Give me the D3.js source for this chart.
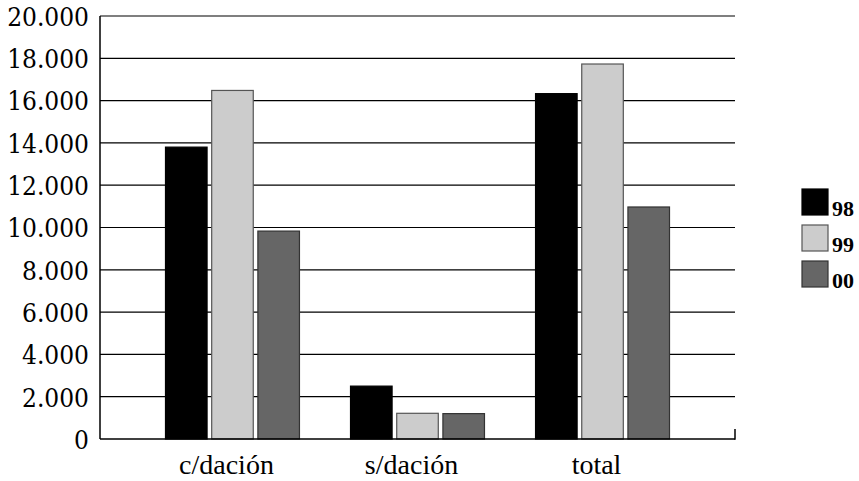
<!DOCTYPE html>
<html>
<head>
<meta charset="utf-8">
<script src="https://cdn.jsdelivr.net/npm/d3@7"></script>
</head>
<body style="margin:0;background:#fff">
<svg id="chart" width="859" height="481" style="display:block"></svg>
<script>
const categories = ["c/dación", "s/dación", "total"];
const seriesNames = ["98", "99", "00"];
const values98 = [13800, 2500, 16330];
const values99 = [16480, 1215, 17730];
const values00 = [9830, 1200, 10970];
const yTicks = [0, 2000, 4000, 6000, 8000, 10000, 12000, 14000, 16000, 18000, 20000];
const tickLabels = ["0", "2.000", "4.000", "6.000", "8.000", "10.000", "12.000", "14.000", "16.000", "18.000", "20.000"];

(function () {
const seriesValues = [values98, values99, values00];
const fills = ["#000000", "#cccccc", "#666666"];
const strokes = ["#000000", "#555555", "#333333"];
const FONT = "Liberation Serif";
const TICKFONT = "DejaVu Serif Condensed";

const svg = d3.select("#chart");
const mLeft = 100, mRight = 735, mTop = 16, mBottom = 439;

const y = d3.scaleLinear().domain([0, 20000]).range([mBottom, mTop]);
const x0 = d3.scaleBand().domain(categories).range([mLeft, mRight]).paddingInner(0.276).paddingOuter(0.354);
const x1 = d3.scaleBand().domain(seriesNames).range([0, x0.bandwidth()]).paddingInner(0.1).paddingOuter(0);

// gridlines
svg.append("g").selectAll("line").data(yTicks.filter(d => d > 0)).join("line")
  .attr("x1", mLeft).attr("x2", mRight)
  .attr("y1", d => y(d)).attr("y2", d => y(d))
  .attr("stroke", "#000").attr("stroke-width", 1.2);

// bars
const groups = svg.append("g").selectAll("g").data(categories).join("g")
  .attr("transform", c => `translate(${x0(c)},0)`);
groups.selectAll("rect")
  .data((c, ci) => seriesNames.map((s, si) => ({ s, si, v: seriesValues[si][ci] })))
  .join("rect")
  .attr("x", d => x1(d.s))
  .attr("width", x1.bandwidth())
  .attr("y", d => y(d.v))
  .attr("height", d => y(0) - y(d.v))
  .attr("fill", d => fills[d.si])
  .attr("stroke", d => strokes[d.si])
  .attr("stroke-width", 1.2);

// axes
svg.append("line").attr("x1", mLeft).attr("x2", mLeft).attr("y1", mTop).attr("y2", mBottom)
  .attr("stroke", "#000").attr("stroke-width", 1.5);
svg.append("line").attr("x1", mLeft).attr("x2", mRight).attr("y1", mBottom).attr("y2", mBottom)
  .attr("stroke", "#000").attr("stroke-width", 1.5);
svg.append("line").attr("x1", mRight).attr("x2", mRight).attr("y1", mBottom - 10).attr("y2", mBottom + 0.75)
  .attr("stroke", "#000").attr("stroke-width", 1.5);

// y tick labels
svg.append("g").selectAll("text").data(yTicks).join("text")
  .attr("x", 89)
  .attr("y", d => y(d))
  .attr("dy", "0.38em")
  .attr("text-anchor", "end")
  .attr("font-family", TICKFONT)
  .attr("font-size", 26)
  .attr("fill", "#000")
  .text((d, i) => tickLabels[i]);

// category labels
svg.append("g").selectAll("text").data(categories).join("text")
  .attr("x", c => x0(c) + x0.bandwidth() / 2 - 6)
  .attr("y", 474)
  .attr("text-anchor", "middle")
  .attr("font-family", FONT)
  .attr("font-size", 28)
  .attr("fill", "#000")
  .text(c => c);

// legend
const legend = svg.append("g").selectAll("g").data(seriesNames).join("g")
  .attr("transform", (d, i) => `translate(802,${189 + i * 36})`);
legend.append("rect")
  .attr("width", 26).attr("height", 26)
  .attr("fill", (d, i) => fills[i])
  .attr("stroke", (d, i) => strokes[i])
  .attr("stroke-width", 1.2);
legend.append("text")
  .attr("x", 30).attr("y", 27)
  .attr("font-family", FONT)
  .attr("font-weight", "bold")
  .attr("font-size", 22)
  .attr("fill", "#000")
  .text(d => d);
})();
</script>
</body>
</html>
